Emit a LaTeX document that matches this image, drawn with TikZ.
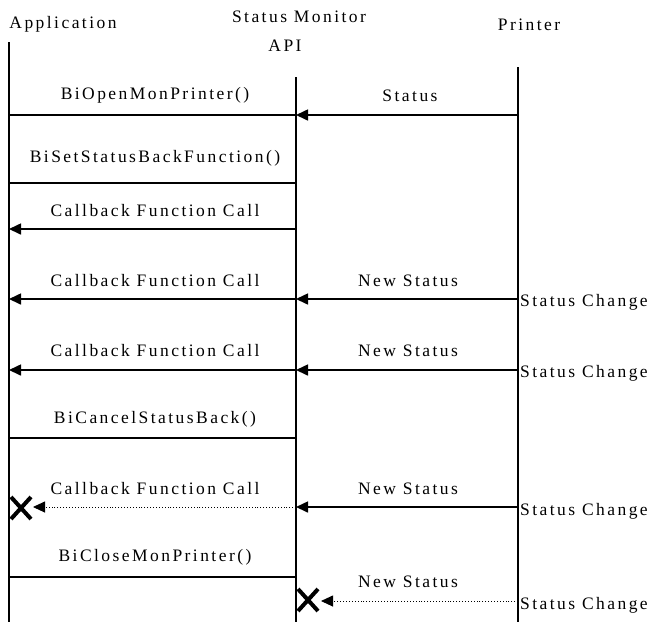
\documentclass[tikz,border=0pt]{standalone}
\usepackage{fontspec}
\setmainfont{Liberation Serif}[LetterSpace=14]
\usetikzlibrary{arrows.meta,calc}
\begin{document}
\begin{tikzpicture}[x=1pt,y=-1pt,
  life/.style={line width=1.8pt},
  msg/.style={line width=1.6pt},
  call/.style={msg,-{Triangle[length=12pt,width=11pt]}},
  lost/.style={line width=0.9pt,dotted,-{Triangle[length=12pt,width=11pt]}},
  lbl/.style={font=\fontsize{17.5}{19}\selectfont,inner sep=0pt},
  xmark/.style={line width=4pt}]
\useasboundingbox (0,0) rectangle (660,622);
% headers
\node[lbl] (happ) at (63,24) {Application};
\node[lbl] (hsm) at (299,17) {Status Monitor};
\node[lbl] (hapi) at (285,46) {API};
\node[lbl] (hpr) at (529,25) {Printer};
% lifelines
\coordinate (at) at (9,42); \coordinate (ab) at (9,622);
\coordinate (st) at (296,77); \coordinate (sb) at (296,622);
\coordinate (pt) at (518,67); \coordinate (pb) at (518,622);
\draw[life] (at) -- (ab);
\draw[life] (st) -- (sb);
\draw[life] (pt) -- (pb);
% message endpoints
\foreach \n/\y in {1/115,2/183,3/229,4/299,5/370,6/438,7/507,8/577,9/601}{
  \coordinate (a\n) at (9,\y);
  \coordinate (s\n) at (296,\y);
  \coordinate (p\n) at (518,\y);
}
% 1
\draw[msg] (a1) -- (s1);
\node[lbl] (l1) at (155,95) {BiOpenMonPrinter()};
\draw[call] (p1) -- (s1);
\node[lbl] (l1b) at (410,96) {Status};
% 2
\draw[msg] (a2) -- (s2);
\node[lbl] (l2) at (155,158) {BiSetStatusBackFunction()};
% 3
\draw[call] (s3) -- (a3);
\node[lbl] (l3) at (155,211) {Callback Function Call};
% 4
\draw[call] (s4) -- (a4);
\node[lbl] (l4) at (155,281) {Callback Function Call};
\draw[call] (p4) -- (s4);
\node[lbl] (l4b) at (408,281) {New Status};
\node[lbl,anchor=west] (c4) at (520,302) {Status Change};
% 5
\draw[call] (s5) -- (a5);
\node[lbl] (l5) at (155,351) {Callback Function Call};
\draw[call] (p5) -- (s5);
\node[lbl] (l5b) at (408,351) {New Status};
\node[lbl,anchor=west] (c5) at (520,373) {Status Change};
% 6
\draw[msg] (a6) -- (s6);
\node[lbl] (l6) at (155,419) {BiCancelStatusBack()};
% 7
\coordinate (x7) at (21,508);
\coordinate (x7e) at (33,507);
\draw[lost] (s7) -- (x7e);
\draw[xmark] ($(x7)+(-10,-11)$) -- ($(x7)+(10,11)$) ($(x7)+(10,-11)$) -- ($(x7)+(-10,11)$);
\node[lbl] (l7) at (155,489) {Callback Function Call};
\draw[call] (p7) -- (s7);
\node[lbl] (l7b) at (408,489) {New Status};
\node[lbl,anchor=west] (c7) at (520,511) {Status Change};
% 8
\draw[msg] (a8) -- (s8);
\node[lbl] (l8) at (155,557) {BiCloseMonPrinter()};
% 9
\coordinate (x9) at (308,600);
\coordinate (x9e) at (321,601);
\draw[lost] (p9) -- (x9e);
\draw[xmark] ($(x9)+(-10,-11)$) -- ($(x9)+(10,11)$) ($(x9)+(10,-11)$) -- ($(x9)+(-10,11)$);
\node[lbl] (l9b) at (408,582) {New Status};
\node[lbl,anchor=west] (c9) at (520,605) {Status Change};
\end{tikzpicture}
\end{document}
